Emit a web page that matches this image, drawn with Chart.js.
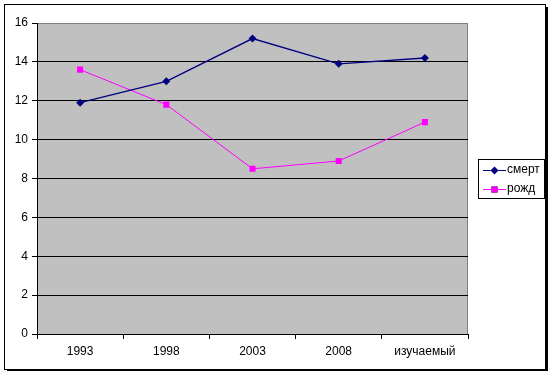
<!DOCTYPE html>
<html>
<head>
<meta charset="utf-8">
<script src="https://cdn.jsdelivr.net/npm/chart.js@4/dist/chart.umd.min.js"></script>
<style>
  html, body { margin: 0; padding: 0; background: #fff; }
  #grafico { display: block; }
</style>
</head>
<body>
<canvas id="grafico" width="553" height="375"></canvas>
<script>
// datos del gráfico
const categorias = ['1993', '1998', '2003', '2008', 'изучаемый'];
const smert = [11.9, 13.0, 15.2, 13.9, 14.2];
const rozhd = [13.6, 11.8, 8.5, 8.9, 10.9];
const yMin = 0;
const yMax = 16;
const yPaso = 2;

const fuente = "'Liberation Sans Narrow', 'Liberation Sans', Arial, sans-serif";

// fondo, marco exterior y área gris
const fondo = {
    id: 'fondo',
    beforeDraw(chart) {
        const { ctx, chartArea: a } = chart;
        ctx.save();
        ctx.fillStyle = '#fff';
        ctx.fillRect(0, 0, chart.width, chart.height);
        // sombra
        ctx.fillStyle = '#000';
        ctx.fillRect(7, 369, 541, 2);
        ctx.fillRect(546, 7, 2, 364);
        // marco
        ctx.strokeStyle = '#000';
        ctx.lineWidth = 1;
        ctx.strokeRect(4.5, 4.5, 541, 365);
        // área del gráfico
        ctx.fillStyle = '#C0C0C0';
        ctx.fillRect(a.left, a.top, a.right - a.left, a.bottom - a.top);
        ctx.strokeStyle = '#808080';
        ctx.strokeRect(a.left + 0.5, a.top + 0.5, a.right - a.left - 1, a.bottom - a.top);
        ctx.restore();
    }
};

// leyenda con recuadro
const leyenda = {
    id: 'leyenda',
    afterDraw(chart) {
        const ctx = chart.ctx;
        const x = 478, y = 159, w = 66, h = 39;
        ctx.save();
        ctx.fillStyle = '#fff';
        ctx.fillRect(x, y, w, h);
        ctx.strokeStyle = '#000';
        ctx.lineWidth = 1;
        ctx.strokeRect(x + 0.5, y + 0.5, w, h);
        ctx.font = '12px ' + fuente;
        ctx.textBaseline = 'middle';
        chart.data.datasets.forEach((ds, i) => {
            const cy = y + 11 + i * 19;
            ctx.strokeStyle = ds.borderColor;
            ctx.lineWidth = 1;
            ctx.beginPath();
            ctx.moveTo(x + 5, cy + 0.5);
            ctx.lineTo(x + 28, cy + 0.5);
            ctx.stroke();
            Chart.helpers.drawPoint(ctx, {
                pointStyle: ds.pointStyle,
                radius: ds.pointRadius,
                rotation: 0,
                borderWidth: 0
            }, x + 16.5, cy + 0.5);
            ctx.fillStyle = ds.borderColor;
            ctx.fill();
            ctx.fillStyle = '#000';
            ctx.textAlign = 'left';
            ctx.fillText(ds.label, x + 29, cy);
        });
        ctx.restore();
    }
};

const ctx = document.getElementById('grafico').getContext('2d');
const grafico = new Chart(ctx, {
    type: 'line',
    data: {
        labels: categorias,
        datasets: [
            {
                label: 'смерт',
                data: smert,
                borderColor: '#000080',
                backgroundColor: '#000080',
                borderWidth: 1.3,
                pointStyle: 'rectRot',
                pointRadius: 4,
                pointBorderWidth: 0,
                tension: 0
            },
            {
                label: 'рожд',
                data: rozhd,
                borderColor: '#FF00FF',
                backgroundColor: '#FF00FF',
                borderWidth: 1,
                pointStyle: 'rect',
                pointRadius: 4.3,
                pointBorderWidth: 0,
                tension: 0
            }
        ]
    },
    options: {
        responsive: false,
        animation: false,
        layout: { padding: { left: 0, top: 23, right: 85, bottom: 0 } },
        plugins: {
            legend: { display: false },
            tooltip: { enabled: false }
        },
        scales: {
            x: {
                offset: true,
                grid: {
                    offset: true,
                    drawOnChartArea: false,
                    tickLength: 5,
                    tickColor: '#000'
                },
                border: { color: '#000' },
                ticks: {
                    color: '#000',
                    padding: 5,
                    maxRotation: 0,
                    font: { family: fuente, size: 12 }
                },
                afterFit(scale) { scale.height = 41; }
            },
            y: {
                min: yMin,
                max: yMax,
                ticks: {
                    stepSize: yPaso,
                    color: '#000',
                    padding: 4,
                    font: { family: fuente, size: 12 }
                },
                grid: {
                    color: c => (c.tick && c.tick.value === yMax ? '#808080' : '#000'),
                    tickColor: '#000',
                    tickLength: 5
                },
                border: { color: '#000' },
                afterFit(scale) { scale.width = 37; }
            }
        }
    },
    plugins: [fondo, leyenda]
});
</script>
</body>
</html>
